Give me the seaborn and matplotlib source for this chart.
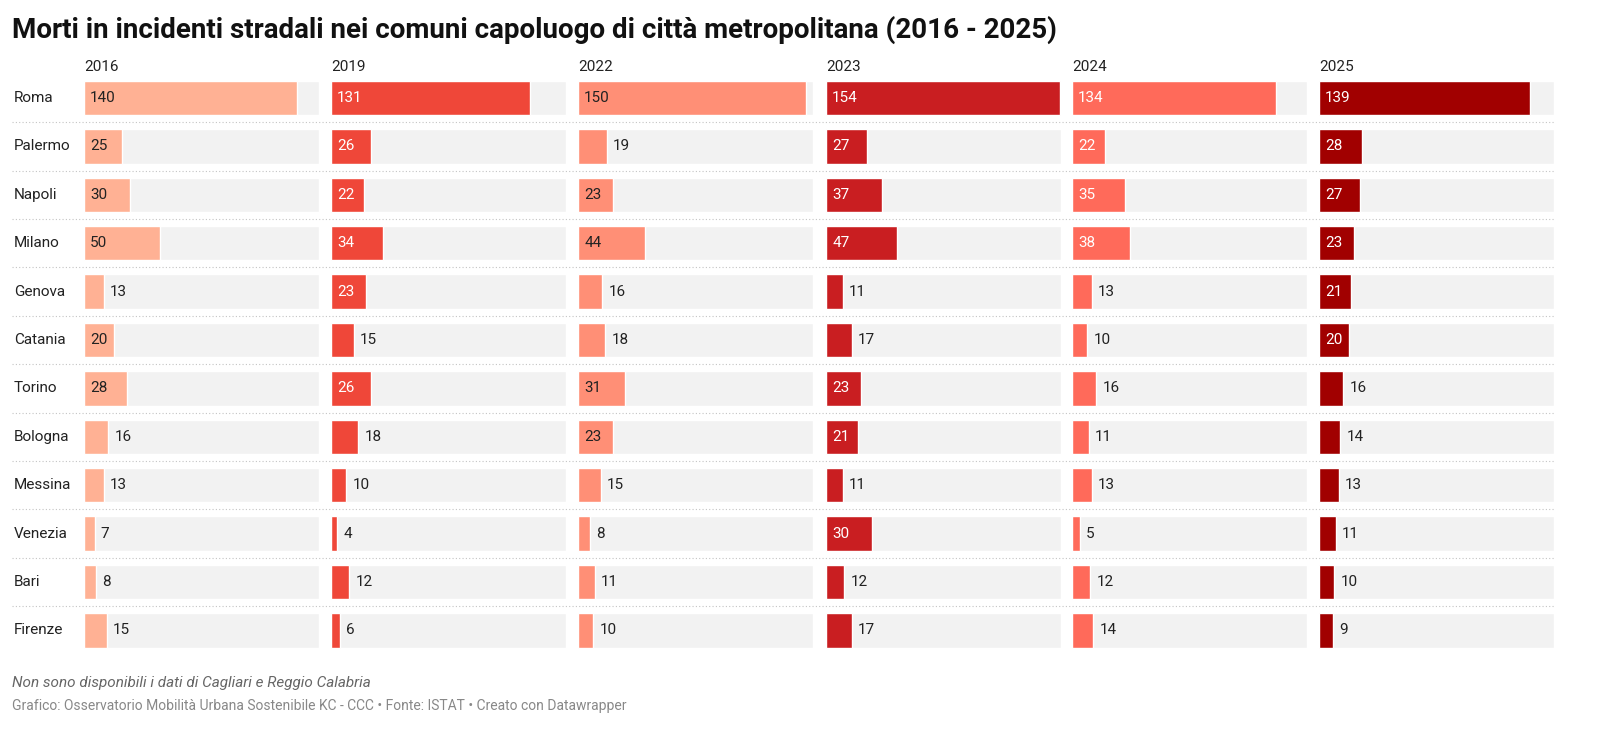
import pandas as pd
import matplotlib.pyplot as plt
import seaborn as sns

cities = ["Roma", "Palermo", "Napoli", "Milano", "Genova", "Catania", "Torino",
          "Bologna", "Messina", "Venezia", "Bari", "Firenze"]
years = ["2016", "2019", "2022", "2023", "2024", "2025"]
v2016 = [140, 25, 30, 50, 13, 20, 28, 16, 13, 7, 8, 15]
v2019 = [131, 26, 22, 34, 23, 15, 26, 18, 10, 4, 12, 6]
v2022 = [150, 19, 23, 44, 16, 18, 31, 23, 15, 8, 11, 10]
v2023 = [154, 27, 37, 47, 11, 17, 23, 21, 11, 30, 12, 17]
v2024 = [134, 22, 35, 38, 13, 10, 16, 11, 13, 5, 12, 14]
v2025 = [139, 28, 27, 23, 21, 20, 16, 14, 13, 11, 10, 9]
values = [v2016, v2019, v2022, v2023, v2024, v2025]

colors = ["#ffb194", "#ef4739", "#ff8f76", "#c91e21", "#ff6a5a", "#a10000"]
inside_txt = ["#222222", "white", "#222222", "white", "white", "white"]

sns.set_theme(style="white")
plt.rcParams['font.family'] = ['Roboto', 'DejaVu Sans']

W, H = 1600, 743
fig = plt.figure(figsize=(16, 7.43), dpi=100)

fig.text(12 / W, 1 - 30 / H, "Morti in incidenti stradali nei comuni capoluogo di città metropolitana (2016 - 2025)",
         fontsize=20, fontweight="bold", va="center", color="#111111")

row0, step = 98, 48.4
top_px = row0 - step / 2
bottom_px = row0 + step * 11.5
xmax = 154.5
col_x = [84, 331, 578, 826, 1072, 1319]
col_w = 235

for i, (yr, vals) in enumerate(zip(years, values)):
    ax = fig.add_axes([col_x[i] / W, 1 - bottom_px / H, col_w / W, (bottom_px - top_px) / H])
    df = pd.DataFrame({"city": cities, "val": vals})
    ax.barh(range(len(cities)), [xmax] * len(cities), height=0.71, color="#f2f2f2", zorder=0)
    sns.barplot(data=df, y="city", x="val", orient="h", color=colors[i], width=0.71,
                saturation=1, ax=ax, zorder=2)
    ax.set_xlim(0, xmax)
    ax.set_ylim(len(cities) - 0.5, -0.5)
    ax.axis("off")
    for j, v in enumerate(vals):
        if v >= 20:
            ax.text(4, j, str(v), va="center", ha="left", fontsize=11, color=inside_txt[i], zorder=3)
        else:
            ax.text(v + 4, j, str(v), va="center", ha="left", fontsize=11, color="#222222", zorder=3)
    fig.text(col_x[i] / W, 1 - 67 / H, yr, fontsize=11, va="center", color="#222222")

for j, c in enumerate(cities):
    y = row0 + j * step
    fig.text(14 / W, 1 - y / H, c, fontsize=11, va="center", color="#222222")
    if j < len(cities) - 1:
        ys = 1 - (y + step / 2) / H
        fig.add_artist(plt.Line2D([12 / W, 1555 / W], [ys, ys], color="#c4c4c4",
                                  lw=0.8, ls=(0, (1, 2))))

fig.text(12 / W, 1 - 683 / H, "Non sono disponibili i dati di Cagliari e Reggio Calabria",
         fontsize=11, style="italic", color="#666666", va="center")
fig.text(12 / W, 1 - 706 / H,
         "Grafico: Osservatorio Mobilità Urbana Sostenibile KC - CCC • Fonte: ISTAT • Creato con Datawrapper",
         fontsize=10, color="#888888", va="center")

fig.savefig("out.png", dpi=100, facecolor="white")
